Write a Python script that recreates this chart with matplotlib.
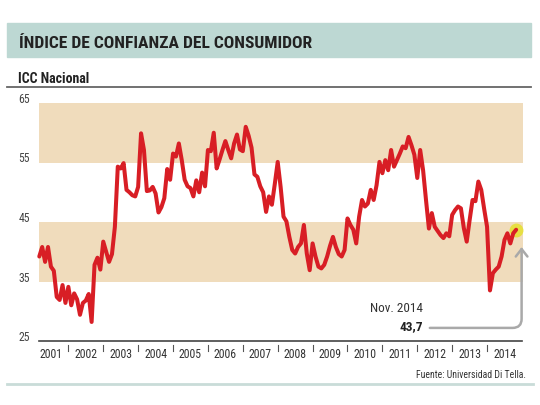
import matplotlib
matplotlib.use("Agg")
import matplotlib.pyplot as plt
from matplotlib import font_manager
from matplotlib.patches import Rectangle, FancyArrowPatch, ArrowStyle
from matplotlib.lines import Line2D
import matplotlib.transforms as mtransforms

names = {f.name for f in font_manager.fontManager.ttflist}
FONT = 'Liberation Sans'
for cand in ['Roboto Condensed', 'Liberation Sans Narrow', 'Archivo Narrow',
             'Asap Condensed', 'Barlow Semi Condensed', 'Barlow Condensed']:
    if cand in names:
        FONT = cand
        break
plt.rcParams['font.family'] = [FONT, 'DejaVu Sans']

# ---- data (monthly ICC, Mar 2001 - Nov 2014) ----
icc_2001 = [39.2, 40.8, 38.3, 40.8, 37.5, 36.8, 32.4, 31.9, 34.4, 31.4]  # Mar-Dec
icc_2002 = [34.1, 31.0, 33.0, 32.0, 29.4, 31.4, 31.8, 32.9, 28.2, 37.8, 39.0, 37.0]
icc_2003 = [41.7, 40.0, 38.3, 39.6, 44.2, 54.3, 54.0, 54.9, 50.4, 50.0, 49.5, 49.3]
icc_2004 = [50.9, 59.9, 57.1, 50.2, 50.3, 50.9, 49.8, 46.6, 47.5, 49.0, 53.9, 52.1]
icc_2005 = [56.5, 56.0, 58.2, 55.4, 52.1, 51.0, 50.7, 49.3, 52.0, 50.0, 53.3, 51.0]
icc_2006 = [57.1, 56.9, 60.0, 54.0, 55.5, 57.1, 58.6, 57.1, 55.7, 58.2, 59.7, 57.2]
icc_2007 = [56.9, 61.0, 59.5, 57.5, 53.0, 52.6, 51.0, 50.0, 46.7, 49.3, 47.9, 51.4]
icc_2008 = [55.1, 50.9, 45.9, 45.1, 42.5, 40.3, 39.7, 40.8, 41.4, 44.5, 39.7, 36.9]
icc_2009 = [41.4, 39.2, 37.5, 37.2, 37.8, 39.2, 41.0, 42.5, 40.8, 39.6, 39.2, 40.3]
icc_2010 = [45.6, 44.5, 43.7, 41.4, 45.9, 48.7, 47.6, 48.1, 50.4, 48.7, 51.2, 55.1]
icc_2011 = [53.2, 55.4, 53.7, 57.1, 54.3, 55.4, 56.5, 57.7, 57.4, 59.3, 57.9, 56.3]
icc_2012 = [52.4, 57.1, 53.7, 48.7, 43.9, 46.5, 44.2, 43.5, 42.8, 42.3, 43.1, 42.6]
icc_2013 = [46.2, 47.0, 47.6, 47.3, 44.0, 41.7, 45.3, 48.7, 48.5, 51.8, 50.4, 47.2]
icc_2014 = [44.2, 33.5, 36.4, 37.0, 37.5, 39.2, 42.0, 43.1, 41.4, 43.1, 43.7]  # Jan-Nov

years = list(range(2001, 2015))
year_labels = [str(y) for y in years]
y_ticks = [25, 35, 45, 55, 65]
bands = [(35, 45), (55, 65)]
last_label = "Nov. 2014"
last_value_text = "43,7"

values = (icc_2001 + icc_2002 + icc_2003 + icc_2004 + icc_2005 + icc_2006 + icc_2007
          + icc_2008 + icc_2009 + icc_2010 + icc_2011 + icc_2012 + icc_2013 + icc_2014)
start = 2001 + 2 / 12.0  # March 2001
xs = [start + i / 12.0 for i in range(len(values))]

W, H = 540, 405
fig = plt.figure(figsize=(W / 100, H / 100), dpi=100)
fig.patch.set_facecolor('white')

def fx(px):
    return px / W

def fy(py):
    return 1 - py / H

# title band
fig.patches.append(Rectangle((fx(7), fy(57)), fx(531) - fx(7), fy(23) - fy(57),
                             transform=fig.transFigure, color='#bdd8d3', zorder=0))
fig.text(fx(19), fy(48.5), "ÍNDICE DE CONFIANZA DEL CONSUMIDOR", fontsize=12.6,
         fontweight='bold', color='#222222', ha='left', va='baseline')
fig.text(fx(18), fy(83), "ICC Nacional", fontsize=10, fontweight='bold',
         color='#222222', ha='left', va='baseline')
fig.lines.append(Line2D([fx(7), fx(531)], [fy(87), fy(87)], transform=fig.transFigure,
                        color='#666666', lw=1.3))
fig.text(fx(526), fy(378.5), "Fuente: Universidad Di Tella.", fontsize=7,
         color='#333333', ha='right', va='baseline')
fig.lines.append(Line2D([fx(7), fx(533)], [fy(384), fy(384)], transform=fig.transFigure,
                        color='#c9dcd8', lw=2))

ax_l, ax_r, ax_t, ax_b = 39.4, 523, 103, 341
ax = fig.add_axes([fx(ax_l), fy(ax_b), fx(ax_r) - fx(ax_l), fy(ax_t) - fy(ax_b)])
ax.set_xlim(2001.17, 2015.03)
ax.set_ylim(25, 65)
for lo, hi in bands:
    ax.axhspan(lo, hi, color='#f0dcbc', lw=0, zorder=0)

for s in ['top', 'right', 'left']:
    ax.spines[s].set_visible(False)
ax.spines['bottom'].set_color('#444444')
ax.spines['bottom'].set_linewidth(1.2)
ax.spines['bottom'].set_bounds(2001.17, 2014.99)
ax.set_xticks([])
ax.set_yticks([])

trans_y = mtransforms.blended_transform_factory(ax.transAxes, ax.transData)
for v in y_ticks:
    ax.text(-0.019, v, str(v), transform=trans_y, ha='right', va='baseline',
            fontsize=8.5, color='#444444')

trans_x = mtransforms.blended_transform_factory(ax.transData, ax.transAxes)
for y, lab in zip(years, year_labels):
    ax.text(y + 0.5, -0.058, lab, transform=trans_x, ha='center', va='center',
            fontsize=8.5, color='#333333')
    if y > 2001:
        ax.plot([y, y], [-0.017, -0.042], transform=trans_x, color='#555555',
                lw=0.8, clip_on=False)

ax.plot(xs, values, color='#d81e25', lw=2.9, solid_joinstyle='round',
        solid_capstyle='round', clip_on=False, zorder=3)
ax.plot([xs[-1]], [values[-1]], 'o', ms=10, color='#e6e036', alpha=0.9,
        mec='none', zorder=2, clip_on=False)

arrow = FancyArrowPatch((2012.36, 27.2), (2014.99, 40.8),
                        connectionstyle="angle,angleA=0,angleB=90,rad=9",
                        arrowstyle=ArrowStyle('->', head_length=0.45, head_width=0.35),
                        mutation_scale=12, color='#a9a9a9', lw=1.8,
                        shrinkA=0, shrinkB=0, clip_on=False, zorder=2)
ax.add_patch(arrow)
ax.text(2012.16, 30.4, last_label, ha='right', va='center', fontsize=9.5, color='#333333')
ax.text(2012.16, 27.5, last_value_text, ha='right', va='center', fontsize=9.5,
        fontweight='bold', color='#222222')

fig.savefig('out.png', dpi=100, facecolor='white')
